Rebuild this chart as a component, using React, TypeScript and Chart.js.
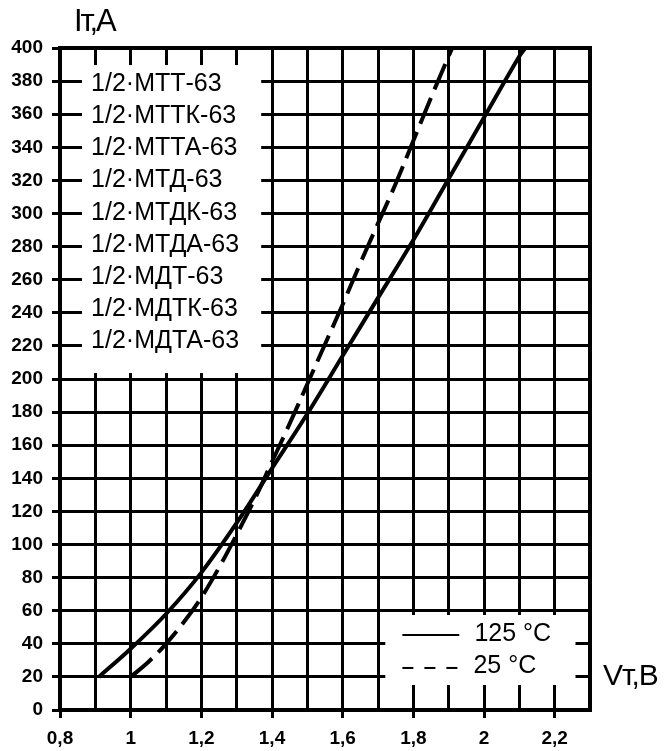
import { useEffect, useRef } from 'react';
import { Chart, registerables } from 'chart.js';

Chart.register(...registerables);

// ---- data ----
const voltage125 = [0.91, 1.0, 1.1, 1.2, 1.3, 1.4, 1.5, 1.6, 1.7, 1.8, 1.9, 2.0, 2.1, 2.117];
const current125 = [20, 37, 58, 83, 113, 146, 179, 214, 249, 284, 321, 358, 395, 400];
const voltage25 = [1.0, 1.05, 1.1, 1.15, 1.2, 1.25, 1.3, 1.35, 1.4, 1.45, 1.5, 1.55, 1.6, 1.65, 1.7, 1.75, 1.8, 1.85, 1.91];
const current25 = [20, 29, 40, 53, 68, 86, 106, 127, 150, 173, 197, 221, 245, 270, 294, 318, 344, 370, 400];
const seriesLabels = ['125 °C', '25 °C'];
const modelLabels = [
  '1/2·МТТ-63',
  '1/2·МТТК-63',
  '1/2·МТТА-63',
  '1/2·МТД-63',
  '1/2·МТДК-63',
  '1/2·МТДА-63',
  '1/2·МДТ-63',
  '1/2·МДТК-63',
  '1/2·МДТА-63',
];
const yTitle = 'Iт,А';
const xTitle = 'Vт,В';

// ---- layout constants (data units) ----
const X_MIN = 0.8;
const X_MAX = 2.3;
const Y_MIN = 0;
const Y_MAX = 400;
const BOX1 = { x0: 0.8623, x1: 1.3694, y0: 389.7, y1: 203.6 };
const BOX2 = { x0: 1.7207, x1: 2.2589, y0: 57.4, y1: 15.1 };
const ROWS_TOP = 378;
const ROWS_BOTTOM = 223;

const FONT = '"Liberation Sans", Arial, Helvetica, sans-serif';

const overlayPlugin = {
  id: 'overlay',
  beforeDatasetsDraw(chart: any) {
    const { ctx, scales } = chart;
    const x = scales.x;
    const y = scales.y;
    ctx.save();
    ctx.fillStyle = '#ffffff';
    for (const b of [BOX1, BOX2]) {
      const px0 = x.getPixelForValue(b.x0);
      const px1 = x.getPixelForValue(b.x1);
      const py0 = y.getPixelForValue(b.y0);
      const py1 = y.getPixelForValue(b.y1);
      ctx.fillRect(px0, py0, px1 - px0, py1 - py0);
    }
    ctx.restore();
  },
  afterDraw(chart: any) {
    const { ctx, scales, chartArea } = chart;
    const x = scales.x;
    const y = scales.y;
    ctx.save();
    // frame
    ctx.strokeStyle = '#000';
    ctx.lineWidth = 4;
    ctx.strokeRect(chartArea.left, chartArea.top, chartArea.right - chartArea.left, chartArea.bottom - chartArea.top);

    // model list
    ctx.fillStyle = '#000';
    ctx.textBaseline = 'middle';
    ctx.textAlign = 'left';
    ctx.font = `25px ${FONT}`;
    const tx = x.getPixelForValue(0.888);
    const n = modelLabels.length;
    modelLabels.forEach((label, k) => {
      const v = ROWS_TOP - (k * (ROWS_TOP - ROWS_BOTTOM)) / (n - 1);
      ctx.fillText(label, tx, y.getPixelForValue(v));
    });

    // series legend
    const lx0 = x.getPixelForValue(1.769);
    const lx1 = x.getPixelForValue(1.93);
    const ly0 = y.getPixelForValue(45.3);
    const ly1 = y.getPixelForValue(25.4);
    ctx.lineWidth = 2;
    ctx.setLineDash([]);
    ctx.beginPath();
    ctx.moveTo(lx0, ly0);
    ctx.lineTo(lx1, ly0);
    ctx.stroke();
    ctx.setLineDash([11, 11]);
    ctx.beginPath();
    ctx.moveTo(lx0, ly1);
    ctx.lineTo(lx1 + 1, ly1);
    ctx.stroke();
    ctx.setLineDash([]);
    ctx.fillText(seriesLabels[0], x.getPixelForValue(1.973), y.getPixelForValue(45.9));
    ctx.fillText(seriesLabels[1], x.getPixelForValue(1.97), y.getPixelForValue(26.6));

    // axis titles
    (ctx as any).letterSpacing = '-2px';
    ctx.font = `31px ${FONT}`;
    ctx.fillText(yTitle, 74, 22);
    (ctx as any).letterSpacing = '-1px';
    ctx.font = `30px ${FONT}`;
    ctx.fillText(xTitle, 603, 677);
    (ctx as any).letterSpacing = '0px';
    ctx.restore();
  },
};

export default function App() {
  const canvasRef = useRef<HTMLCanvasElement | null>(null);

  useEffect(() => {
    const canvas = canvasRef.current;
    if (!canvas) return;
    const chart = new Chart(canvas, {
      type: 'scatter',
      data: {
        datasets: [
          {
            label: seriesLabels[0],
            data: voltage125.map((v, i) => ({ x: v, y: current125[i] })),
            showLine: true,
            borderColor: '#000',
            borderWidth: 4,
            pointRadius: 0,
            tension: 0.35,
            fill: false,
          },
          {
            label: seriesLabels[1],
            data: voltage25.map((v, i) => ({ x: v, y: current25[i] })),
            showLine: true,
            borderColor: '#000',
            borderWidth: 4,
            borderDash: [28, 9],
            pointRadius: 0,
            tension: 0.35,
            fill: false,
          },
        ],
      },
      options: {
        animation: false,
        responsive: false,
        devicePixelRatio: 1,
        layout: { padding: { top: 48, right: 74, bottom: 0, left: 0 } },
        plugins: {
          legend: { display: false },
          tooltip: { enabled: false },
        },
        scales: {
          x: {
            type: 'linear',
            min: X_MIN,
            max: X_MAX,
            afterFit: (scale: any) => {
              scale.height = 41;
            },
            grid: {
              color: '#000',
              lineWidth: 3,
              drawTicks: true,
              tickLength: 8,
              tickWidth: 3,
              tickColor: (c: any) => {
                const t = Math.round(Number(c.tick?.value) * 10);
                return t % 2 === 0 ? '#000' : 'rgba(0,0,0,0)';
              },
            },
            border: { display: true, color: '#000', width: 4 },
            ticks: {
              stepSize: 0.1,
              autoSkip: false,
              maxRotation: 0,
              padding: 9,
              color: '#000',
              font: { family: FONT, size: 19, weight: 'bold' },
              callback: (value: any) => {
                const t = Math.round(Number(value) * 10);
                return t % 2 === 0 ? String(t / 10).replace('.', ',') : '';
              },
            },
          },
          y: {
            type: 'linear',
            min: Y_MIN,
            max: Y_MAX,
            afterFit: (scale: any) => {
              scale.width = 60;
            },
            grid: {
              color: '#000',
              lineWidth: 3,
              drawTicks: true,
              tickLength: 8,
              tickWidth: 3,
              tickColor: '#000',
            },
            border: { display: true, color: '#000', width: 4 },
            ticks: {
              stepSize: 20,
              autoSkip: false,
              padding: 9,
              color: '#000',
              font: { family: FONT, size: 19, weight: 'bold' },
            },
          },
        },
      },
      plugins: [overlayPlugin],
    } as any);
    return () => chart.destroy();
  }, []);

  return (
    <div style={{ position: 'absolute', left: 0, top: 0, width: 664, height: 751, background: '#fff' }}>
      <canvas ref={canvasRef} width={664} height={751} style={{ display: 'block', width: 664, height: 751 }} />
    </div>
  );
}
